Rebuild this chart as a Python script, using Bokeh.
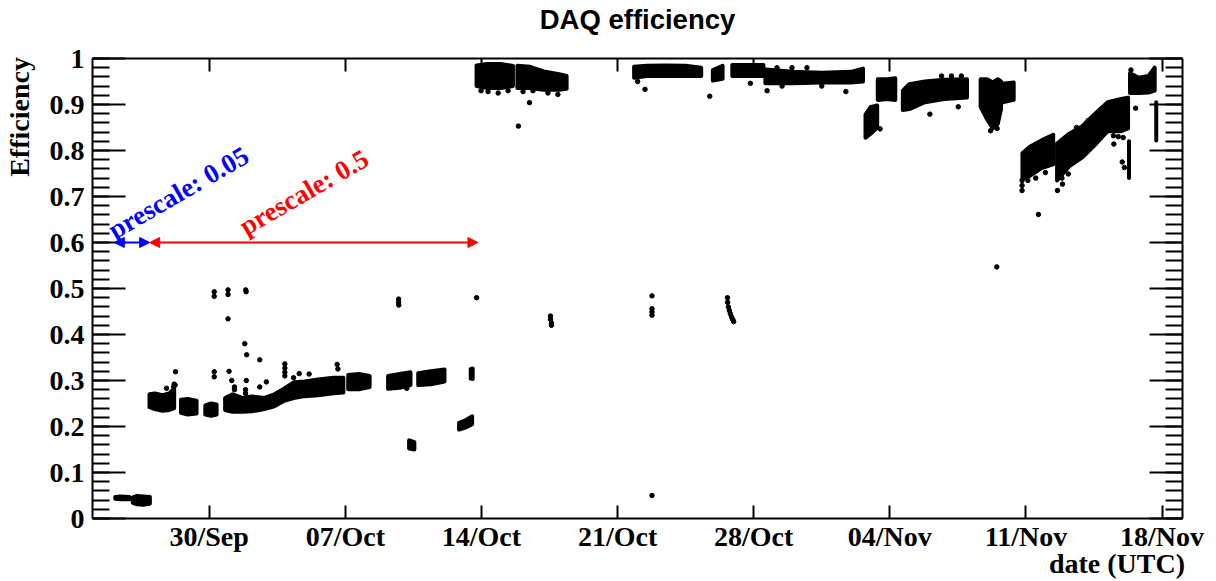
import datetime as dt
from bokeh.plotting import figure
from bokeh.models import (Range1d, LinearAxis, DatetimeAxis, FixedTicker,
                          DatetimeTickFormatter, Label, Arrow, NormalHead)
from bokeh.embed import file_html
from bokeh.resources import INLINE

# ---------------- data (time = days since 24 Sep 2017 00:00 UTC) ----------------
band_id = [1, 1, 1,
           2, 2, 2, 2,
           3, 3, 3, 3, 3,
           4, 4, 4,
           5, 5, 5,
           6, 6, 6, 6, 6, 6, 6, 6, 6, 6, 6, 6,
           8, 8, 8,
           9, 9, 9,
           10, 10, 10,
           11, 11,
           12, 12, 12,
           13, 13,
           14, 14, 14, 14,
           15, 15, 15, 15, 15,
           16, 16, 16, 16, 16,
           17, 17,
           18, 18,
           19, 19, 19, 19, 19,
           20, 20, 20,
           21, 21, 21,
           22, 22, 22, 22, 22,
           23, 23, 23, 23, 23,
           24, 24,
           25, 25, 25, 25,
           26, 26, 26, 26, 26, 26, 26,
           27,
           28, 28, 28, 28,
           29]
band_t = [1.17, 1.45, 1.90,
          2.07, 2.30, 2.60, 2.95,
          2.93, 3.20, 3.60, 3.95, 4.20,
          4.55, 4.90, 5.35,
          5.80, 6.10, 6.38,
          6.82, 7.20, 7.70, 8.20, 8.85, 9.35, 9.85, 10.35, 10.90, 11.60, 12.40, 12.90,
          13.15, 13.70, 14.25,
          15.20, 15.80, 16.35,
          16.75, 17.40, 18.10,
          16.28, 16.55,
          18.85, 19.20, 19.52,
          19.45, 19.55,
          19.75, 20.30, 21.00, 21.62,
          21.85, 22.50, 23.20, 24.00, 24.38,
          27.85, 28.50, 29.50, 30.50, 31.30,
          31.90, 32.40,
          32.90, 34.50,
          34.60, 36.00, 37.50, 39.00, 39.62,
          39.75, 40.00, 40.35,
          40.38, 40.85, 41.28,
          41.67, 42.00, 42.80, 43.80, 44.97,
          45.67, 46.00, 46.30, 46.55, 46.72,
          46.80, 47.37,
          47.82, 48.20, 48.80, 49.40,
          49.60, 50.20, 50.90, 51.50, 52.20, 52.90, 53.25,
          53.30,
          53.35, 53.80, 54.30, 54.62,
          54.70]
band_lo = [0.043, 0.042, 0.042,
           0.034, 0.031, 0.030, 0.032,
           0.242, 0.238, 0.234, 0.236, 0.240,
           0.230, 0.226, 0.228,
           0.226, 0.223, 0.226,
           0.236, 0.232, 0.232, 0.233, 0.238, 0.244, 0.256, 0.262, 0.266, 0.268, 0.272, 0.274,
           0.281, 0.281, 0.286,
           0.282, 0.284, 0.290,
           0.290, 0.292, 0.298,
           0.152, 0.150,
           0.193, 0.198, 0.205,
           0.304, 0.303,
           0.940, 0.936, 0.936, 0.940,
           0.936, 0.936, 0.932, 0.932, 0.934,
           0.958, 0.962, 0.962, 0.962, 0.962,
           0.952, 0.956,
           0.962, 0.962,
           0.946, 0.946, 0.948, 0.948, 0.950,
           0.828, 0.836, 0.850,
           0.910, 0.912, 0.910,
           0.888, 0.890, 0.905, 0.912, 0.915,
           0.895, 0.868, 0.848, 0.858, 0.890,
           0.905, 0.910,
           0.738, 0.745, 0.762, 0.770,
           0.735, 0.765, 0.785, 0.810, 0.842, 0.842, 0.848,
           0.740,
           0.925, 0.925, 0.926, 0.930,
           0.822]
band_hi = [0.047, 0.048, 0.047,
           0.046, 0.049, 0.048, 0.047,
           0.270, 0.272, 0.268, 0.272, 0.282,
           0.258, 0.260, 0.256,
           0.246, 0.250, 0.248,
           0.262, 0.270, 0.262, 0.265, 0.262, 0.270, 0.282, 0.296, 0.298, 0.302, 0.306, 0.306,
           0.312, 0.314, 0.310,
           0.310, 0.314, 0.318,
           0.316, 0.320, 0.324,
           0.170, 0.166,
           0.208, 0.214, 0.222,
           0.325, 0.326,
           0.985, 0.988, 0.988, 0.984,
           0.984, 0.982, 0.972, 0.966, 0.962,
           0.982, 0.984, 0.985, 0.984, 0.980,
           0.975, 0.984,
           0.986, 0.986,
           0.976, 0.971, 0.969, 0.971, 0.978,
           0.878, 0.894, 0.898,
           0.955, 0.955, 0.957,
           0.930, 0.944, 0.950, 0.954, 0.955,
           0.955, 0.955, 0.948, 0.955, 0.950,
           0.945, 0.948,
           0.794, 0.808, 0.822, 0.834,
           0.815, 0.836, 0.853, 0.878, 0.905, 0.912, 0.915,
           0.820,
           0.968, 0.958, 0.962, 0.980,
           0.905]

# isolated runs and the loose runs at the edges of the dense clouds
dot_t = [3.81, 4.27, 4.25, 4.17, 4.20,
         6.26, 6.26, 6.26, 6.26,
         6.97, 6.97, 6.97, 7.02, 7.16, 7.30, 7.30,
         7.88, 7.90, 7.83, 7.93, 8.60, 7.91, 7.87, 7.87, 8.60, 8.94,
         9.89, 9.89, 9.89, 9.89,
         10.34, 10.63, 11.14, 12.58, 12.62,
         15.74, 15.74, 15.75,
         16.16, 19.75,
         19.98, 20.34, 20.86, 21.37,
         22.14, 22.65, 23.42, 23.93,
         22.47, 21.90,
         23.55, 23.55, 23.60, 23.60,
         28.03,
         28.41, 28.77, 28.77, 28.77, 28.77, 28.77,
         31.74, 32.65, 32.66, 32.70, 32.75, 32.80, 32.86, 32.92, 32.97,
         33.83, 34.69, 35.20, 35.97, 36.74, 35.46, 37.50,
         38.74, 40.50, 43.06, 44.52, 43.66, 44.17, 44.68,
         46.18, 46.52, 46.50,
         48.64, 47.80, 47.80, 47.80, 48.10, 48.50, 49.00,
         49.62, 49.85, 49.88, 50.18, 50.60, 51.20,
         52.50, 52.75, 53.00, 52.52, 52.95, 53.06,
         53.64, 53.40]
dot_eff = [0.283, 0.319, 0.290, 0.286, 0.292,
           0.493, 0.483, 0.319, 0.308,
           0.497, 0.487, 0.434, 0.320, 0.300, 0.286, 0.280,
           0.497, 0.493, 0.380, 0.356, 0.345, 0.300, 0.280, 0.272, 0.286, 0.297,
           0.336, 0.327, 0.318, 0.310,
           0.306, 0.315, 0.314, 0.335, 0.325,
           0.477, 0.470, 0.464,
           0.283, 0.480,
           0.930, 0.928, 0.925, 0.930,
           0.928, 0.930, 0.925, 0.922,
           0.904, 0.853,
           0.440, 0.433, 0.425, 0.420,
           0.950,
           0.933, 0.484, 0.456, 0.449, 0.442, 0.050,
           0.918, 0.480, 0.470, 0.460, 0.452, 0.445, 0.438, 0.433, 0.428,
           0.946, 0.930, 0.980, 0.980, 0.980, 0.940, 0.940,
           0.928, 0.847, 0.879, 0.895, 0.962, 0.962, 0.962,
           0.843, 0.848, 0.547,
           0.661, 0.735, 0.724, 0.713, 0.735, 0.740, 0.752,
           0.713, 0.740, 0.727, 0.749, 0.850, 0.865,
           0.832, 0.830, 0.828, 0.814, 0.775, 0.763,
           0.892, 0.975]

x_tick_days = [6, 13, 20, 27, 34, 41, 48, 55]
y_ticks = [0, 0.1, 0.2, 0.3, 0.4, 0.5, 0.6, 0.7, 0.8, 0.9, 1]
y_tick_labels = ["0", "0.1", "0.2", "0.3", "0.4", "0.5", "0.6", "0.7", "0.8", "0.9", "1"]

blue_period = [1.12, 2.94]
red_period = [2.94, 19.82]
blue_text = "prescale: 0.05"
red_text = "prescale: 0.5"
title_text = "DAQ efficiency"
x_title = "date (UTC)"
y_title = "Efficiency"

# ---------------- helpers ----------------
T0_MS = dt.datetime(2017, 9, 24, tzinfo=dt.timezone.utc).timestamp() * 1000.0
DAY_MS = 86400000.0
NBSP = "\u00a0"


def ms(d):
    return T0_MS + d * DAY_MS


SERIF = "Liberation Serif"
FS = "28px"

p = figure(width=1216, height=581, output_backend="svg", toolbar_location=None,
           x_axis_type="datetime",
           x_range=Range1d(ms(0.0), ms(56.05)), y_range=Range1d(0, 1),
           min_border_left=88, min_border_right=34, min_border_top=56, min_border_bottom=63)
p.xgrid.visible = False
p.ygrid.visible = False
p.outline_line_color = None
p.background_fill_color = "white"
p.border_fill_color = "white"
p.title.visible = False

bottom_ax = p.below[0]
left_ax = p.left[0]
top_ax = DatetimeAxis()
right_ax = LinearAxis()
p.add_layout(top_ax, "above")
p.add_layout(right_ax, "right")

x_tick_ms = [ms(d) for d in x_tick_days]
xticker = FixedTicker(ticks=x_tick_ms)
fmt = "%d/%b"
xfmt = DatetimeTickFormatter(microseconds=fmt, milliseconds=fmt, seconds=fmt, minsec=fmt,
                             minutes=fmt, hourmin=fmt, hours=fmt, days=fmt, months=fmt, years=fmt)
yminor = [round(0.02 * i, 2) for i in range(51)]
yticker = FixedTicker(ticks=y_ticks, minor_ticks=yminor)
yover = {t: l for t, l in zip(y_ticks, y_tick_labels)}


def style(ax, major_in, minor_in, labels, standoff=6):
    ax.axis_line_width = 2
    ax.axis_line_color = "black"
    ax.major_tick_in = major_in
    ax.major_tick_out = 0
    ax.major_tick_line_width = 2
    ax.major_tick_line_color = "black"
    ax.minor_tick_in = minor_in
    ax.minor_tick_out = 0
    ax.minor_tick_line_width = 2
    ax.minor_tick_line_color = "black" if minor_in else None
    if labels:
        ax.major_label_text_font = SERIF
        ax.major_label_text_font_style = "bold"
        ax.major_label_text_font_size = FS
        ax.major_label_text_color = "black"
        ax.major_label_standoff = standoff
    else:
        ax.major_label_text_font_size = "1px"
        ax.major_label_text_color = "white"
        ax.major_label_standoff = 0


for ax in [bottom_ax, top_ax]:
    ax.ticker = xticker
    ax.formatter = xfmt
style(bottom_ax, 13, 0, True, 2)
style(top_ax, 13, 0, False)
top_ax.major_label_overrides = {t: "" for t in x_tick_ms}

for ax in [left_ax, right_ax]:
    ax.ticker = yticker
left_ax.major_label_overrides = yover
right_ax.major_label_overrides = {t: "" for t in y_ticks}
style(left_ax, 33, 17, True, 8)
style(right_ax, 33, 17, False)

# axis titles, ROOT style: right-aligned at the end of each axis.  The axis label
# is centred on the axis, so leading non-breaking spaces push the words to the end.
for ax, txt, pad, so in [(bottom_ax, x_title, 137, -7), (left_ax, y_title, 49, 12)]:
    ax.axis_label = NBSP * pad + txt
    ax.axis_label_text_font = SERIF
    ax.axis_label_text_font_style = "bold"
    ax.axis_label_text_font_size = FS
    ax.axis_label_text_color = "black"
    ax.axis_label_standoff = so

# plot title on the upper axis
top_ax.axis_label = title_text
top_ax.axis_label_text_font = "Liberation Sans"
top_ax.axis_label_text_font_style = "bold"
top_ax.axis_label_text_font_size = "27.5px"
top_ax.axis_label_text_color = "black"
top_ax.axis_label_standoff = 24

# dense bands
groups = []
for b in band_id:
    if b not in groups:
        groups.append(b)
xs, ys = [], []
for g in groups:
    idx = [i for i, b in enumerate(band_id) if b == g]
    t = [band_t[i] for i in idx]
    lo = [band_lo[i] for i in idx]
    hi = [band_hi[i] for i in idx]
    xs.append([ms(v) for v in t] + [ms(v) for v in t[::-1]])
    ys.append(hi + lo[::-1])
p.patches(xs, ys, fill_color="black", line_color="black", line_width=4, line_join="round")

# isolated points
p.scatter(x=[ms(v) for v in dot_t], y=dot_eff, size=4.5, marker="circle",
          fill_color="black", line_color="black")

# prescale arrows
for per, col in [(blue_period, "blue"), (red_period, "red")]:
    p.add_layout(Arrow(start=NormalHead(size=10, fill_color=col, line_color=col),
                       end=NormalHead(size=10, fill_color=col, line_color=col),
                       x_start=ms(per[0]), y_start=0.6, x_end=ms(per[1]), y_end=0.6,
                       line_color=col, line_width=2))

p.add_layout(Label(x=ms(0.92), y=0.623, text=blue_text, angle=0.5236,
                   text_font=SERIF, text_font_style="bold", text_font_size="27px",
                   text_color="blue", text_align="left", text_baseline="alphabetic"))
p.add_layout(Label(x=ms(7.68), y=0.631, text=red_text, angle=0.5236,
                   text_font=SERIF, text_font_style="bold", text_font_size="27px",
                   text_color="red", text_align="left", text_baseline="alphabetic"))

open("out.html", "w").write(file_html(p, INLINE))
